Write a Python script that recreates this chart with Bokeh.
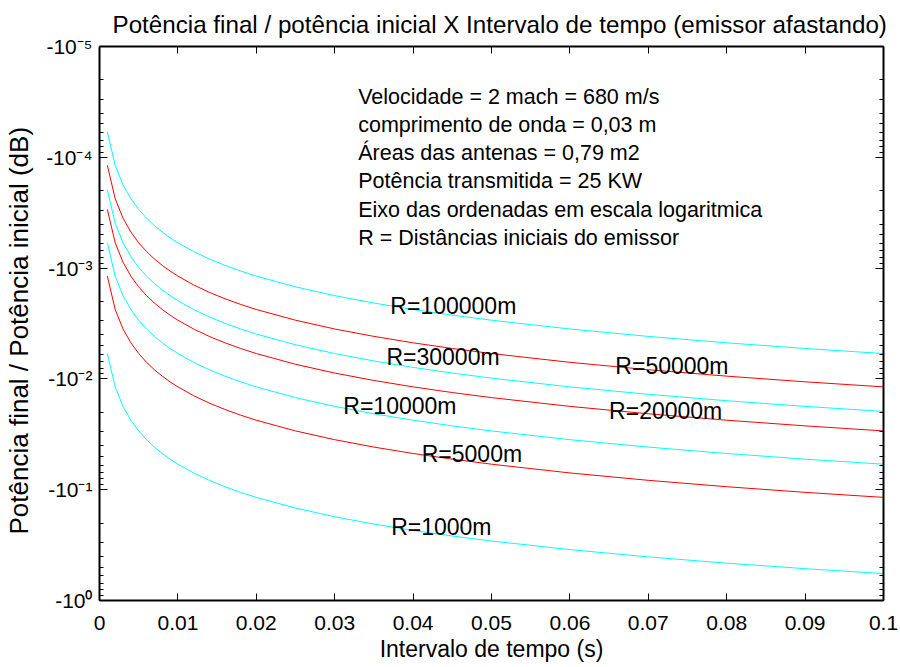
from bokeh.plotting import figure
from bokeh.models import Range1d, LinearAxis, LogAxis, FixedTicker, Label
from bokeh.embed import file_html
from bokeh.resources import INLINE

# ---------------- data ----------------
tempo_s = [0.001, 0.002, 0.003, 0.004, 0.005, 0.006, 0.007, 0.008, 0.009, 0.010,
           0.012, 0.014, 0.016, 0.018, 0.020, 0.025, 0.030, 0.035, 0.040, 0.045,
           0.050, 0.060, 0.070, 0.080, 0.090, 0.100]

# magnitude of the power ratio (dB); the axis shows them as negative values
perda_R100000 = [5.91e-5, 1.181e-4, 1.772e-4, 2.363e-4, 2.953e-4, 3.544e-4, 4.134e-4, 4.725e-4,
                 5.316e-4, 5.906e-4, 7.087e-4, 8.268e-4, 9.449e-4, 1.063e-3, 1.181e-3, 1.476e-3,
                 1.772e-3, 2.067e-3, 2.362e-3, 2.658e-3, 2.953e-3, 3.543e-3, 4.134e-3, 4.724e-3,
                 5.314e-3, 5.904e-3]
perda_R50000 = [1.181e-4, 2.363e-4, 3.544e-4, 4.725e-4, 5.906e-4, 7.087e-4, 8.268e-4, 9.449e-4,
                1.063e-3, 1.181e-3, 1.418e-3, 1.654e-3, 1.890e-3, 2.126e-3, 2.362e-3, 2.953e-3,
                3.543e-3, 4.133e-3, 4.724e-3, 5.314e-3, 5.904e-3, 7.085e-3, 8.265e-3, 9.445e-3,
                1.0625e-2, 1.1805e-2]
perda_R30000 = [1.969e-4, 3.938e-4, 5.906e-4, 7.875e-4, 9.844e-4, 1.181e-3, 1.378e-3, 1.575e-3,
                1.772e-3, 1.969e-3, 2.362e-3, 2.756e-3, 3.150e-3, 3.543e-3, 3.937e-3, 4.921e-3,
                5.904e-3, 6.888e-3, 7.872e-3, 8.855e-3, 9.838e-3, 1.1805e-2, 1.3771e-2, 1.5736e-2,
                1.7701e-2, 1.9666e-2]
perda_R20000 = [2.953e-4, 5.906e-4, 8.860e-4, 1.181e-3, 1.476e-3, 1.772e-3, 2.067e-3, 2.362e-3,
                2.658e-3, 2.953e-3, 3.543e-3, 4.134e-3, 4.724e-3, 5.314e-3, 5.904e-3, 7.380e-3,
                8.855e-3, 1.0330e-2, 1.1805e-2, 1.3279e-2, 1.4753e-2, 1.7701e-2, 2.0648e-2, 2.3593e-2,
                2.6538e-2, 2.9482e-2]
perda_R10000 = [5.906e-4, 1.181e-3, 1.772e-3, 2.362e-3, 2.953e-3, 3.543e-3, 4.134e-3, 4.724e-3,
                5.314e-3, 5.904e-3, 7.085e-3, 8.265e-3, 9.445e-3, 1.0625e-2, 1.1805e-2, 1.4753e-2,
                1.7701e-2, 2.0648e-2, 2.3593e-2, 2.6538e-2, 2.9482e-2, 3.5366e-2, 4.1246e-2, 4.7123e-2,
                5.2995e-2, 5.8863e-2]
perda_R5000 = [1.181e-3, 2.362e-3, 3.544e-3, 4.724e-3, 5.904e-3, 7.085e-3, 8.265e-3, 9.447e-3,
               1.0625e-2, 1.1805e-2, 1.4164e-2, 1.6522e-2, 1.8880e-2, 2.1237e-2, 2.3593e-2, 2.9482e-2,
               3.5366e-2, 4.1246e-2, 4.7123e-2, 5.2995e-2, 5.8863e-2, 7.0588e-2, 8.2296e-2, 9.3988e-2,
               1.05665e-1, 1.17325e-1]
perda_R1000 = [5.904e-3, 1.1805e-2, 1.7701e-2, 2.3594e-2, 2.9482e-2, 3.5366e-2, 4.1247e-2, 4.7123e-2,
               5.2995e-2, 5.8864e-2, 7.0589e-2, 8.2298e-2, 9.3991e-2, 1.05669e-1, 1.17331e-1, 1.46418e-1,
               1.75407e-1, 2.04303e-1, 2.33100e-1, 2.61803e-1, 2.90410e-1, 3.47345e-1, 4.03909e-1,
               4.60107e-1, 5.15944e-1, 5.71424e-1]

series_names = ["R=100000m", "R=50000m", "R=30000m", "R=20000m", "R=10000m", "R=5000m", "R=1000m"]
series_values = [perda_R100000, perda_R50000, perda_R30000, perda_R20000,
                 perda_R10000, perda_R5000, perda_R1000]

x_ticks = [0.0, 0.01, 0.02, 0.03, 0.04, 0.05, 0.06, 0.07, 0.08, 0.09, 0.1]
x_tick_labels = ["0", "0.01", "0.02", "0.03", "0.04", "0.05", "0.06", "0.07", "0.08", "0.09", "0.1"]
y_ticks = [1e-5, 1e-4, 1e-3, 1e-2, 1e-1, 1.0]
y_tick_labels = ["-10\u207b\u2075", "-10\u207b\u2074", "-10\u207b\u00b3",
                 "-10\u207b\u00b2", "-10\u207b\u00b9", "-10\u2070"]

info_lines = ["Velocidade = 2 mach = 680 m/s",
              "comprimento de onda = 0,03 m",
              "Áreas das antenas = 0,79 m2",
              "Potência transmitida = 25 KW",
              "Eixo das ordenadas em escala logaritmica",
              "R = Distâncias iniciais do emissor"]

TITLE = "Potência final / potência inicial  X  Intervalo de tempo  (emissor afastando)"
XLABEL = "Intervalo de tempo (s)"
YLABEL = "Potência final  / Potência inicial  (dB)"

# ---------------- styles / layout ----------------
FONT = "Liberation Sans"
INK = "black"
series_colors = ["#00FFFF", "#FF0000", "#00FFFF", "#FF0000", "#00FFFF", "#FF0000", "#00FFFF"]
# label anchors (data coordinates, left edge / vertical centre)
label_pos = [(0.0371, 2.22e-3), (0.0658, 7.57e-3), (0.0366, 6.41e-3), (0.0650, 1.93e-2),
             (0.0311, 1.774e-2), (0.0411, 4.77e-2), (0.0372, 0.215)]
info_x = 0.0330
info_y = [2.88e-5, 5.16e-5, 9.24e-5, 1.652e-4, 2.96e-4, 5.30e-4]

p = figure(width=900, height=667,
           x_range=Range1d(0, 0.1), y_range=Range1d(1.0, 1e-5),
           y_axis_type="log", output_backend="svg", toolbar_location=None,
           min_border_left=99, min_border_right=17, min_border_top=46, min_border_bottom=67,
           title=TITLE)

p.title.text_font = FONT
p.title.text_font_size = "24.2px"
p.title.text_font_style = "normal"
p.title.text_color = INK
p.title.align = "left"
p.title.offset = 13
p.title.standoff = 17
p.grid.visible = False
p.outline_line_color = None
p.background_fill_color = "white"
p.border_fill_color = "white"

xt = FixedTicker(ticks=x_ticks)
minor_y = [m * 10.0 ** e for e in range(-5, 0) for m in range(2, 10)]
yt = FixedTicker(ticks=y_ticks, minor_ticks=minor_y)

xa = p.xaxis[0]
xa.ticker = xt
xa.major_label_overrides = dict(zip(x_ticks, x_tick_labels))
xa.major_label_text_font = FONT
xa.major_label_text_font_size = "21px"
xa.major_label_text_color = INK
xa.major_label_standoff = 15
xa.major_tick_in = 7
xa.major_tick_out = 0
xa.minor_tick_in = 0
xa.minor_tick_out = 0
xa.axis_line_width = 2
xa.axis_line_color = INK
xa.major_tick_line_color = INK
xa.axis_label = XLABEL
xa.axis_label_text_font = FONT
xa.axis_label_text_font_size = "23px"
xa.axis_label_text_font_style = "normal"
xa.axis_label_text_color = INK
xa.axis_label_standoff = 3

ya = p.yaxis[0]
ya.ticker = yt
ya.major_label_overrides = dict(zip(y_ticks, y_tick_labels))
ya.major_label_text_font = FONT
ya.major_label_text_font_size = "21px"
ya.major_label_text_color = INK
ya.major_label_standoff = 7
ya.major_tick_in = 8
ya.major_tick_out = 0
ya.minor_tick_in = 4
ya.minor_tick_out = 0
ya.axis_line_width = 2
ya.axis_line_color = INK
ya.major_tick_line_color = INK
ya.minor_tick_line_color = INK
ya.axis_label = YLABEL
ya.axis_label_text_font = FONT
ya.axis_label_text_font_size = "26px"
ya.axis_label_text_font_style = "normal"
ya.axis_label_text_color = INK
ya.axis_label_standoff = 9

top_axis = LinearAxis(ticker=xt, major_tick_in=7, major_tick_out=0, minor_tick_in=0,
                      minor_tick_out=0, major_label_text_font_size="1px",
                      major_label_text_color=None, major_label_standoff=0,
                      axis_line_width=2, axis_line_color=INK, major_tick_line_color=INK)
p.add_layout(top_axis, "above")
right_axis = LogAxis(ticker=yt, major_tick_in=8, major_tick_out=0, minor_tick_in=4,
                     minor_tick_out=0, major_label_text_font_size="1px",
                     major_label_text_color=None, major_label_standoff=0,
                     axis_line_width=2, axis_line_color=INK, major_tick_line_color=INK,
                     minor_tick_line_color=INK)
p.add_layout(right_axis, "right")

for vals, col in zip(series_values, series_colors):
    p.line(tempo_s, vals, line_color=col, line_width=1)

for name, (lx, ly) in zip(series_names, label_pos):
    p.add_layout(Label(x=lx, y=ly, text=name, text_font=FONT, text_font_size="23px",
                       text_align="left", text_baseline="middle", text_color=INK))

for line, ly in zip(info_lines, info_y):
    p.add_layout(Label(x=info_x, y=ly, text=line, text_font=FONT, text_font_size="21.5px",
                       text_align="left", text_baseline="middle", text_color=INK))

open("out.html", "w").write(file_html(p, INLINE))
